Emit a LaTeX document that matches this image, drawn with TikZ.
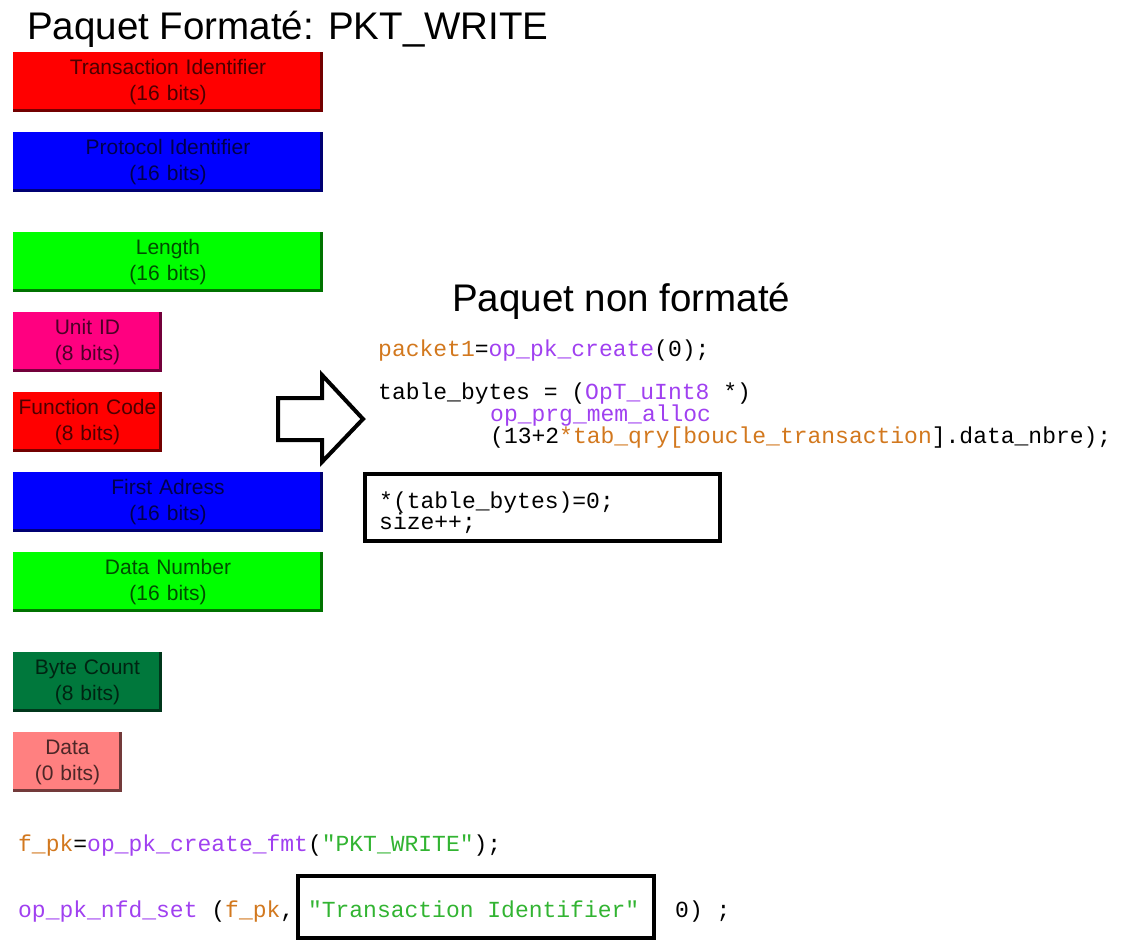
\documentclass[tikz,border=0pt]{standalone}
\usepackage{fontspec}
\setmainfont{Liberation Sans}
\setmonofont{Liberation Mono}
\definecolor{cred}{HTML}{FF0000}
\definecolor{cblue}{HTML}{0000FF}
\definecolor{cgreen}{HTML}{00FF00}
\definecolor{cmag}{HTML}{FF0080}
\definecolor{cdkgreen}{HTML}{00783C}
\definecolor{cpink}{HTML}{FF8080}
\definecolor{corange}{HTML}{D2781E}
\definecolor{cpurple}{HTML}{A040F0}
\definecolor{cstr}{HTML}{32B432}
\newcommand{\OR}[1]{\textcolor{corange}{#1}}
\newcommand{\PU}[1]{\textcolor{cpurple}{#1}}
\newcommand{\GR}[1]{\textcolor{cstr}{#1}}
\tikzset{
  field/.style={draw=none, fill=#1, text=#1!30!black, inner sep=0pt, outer sep=0pt,
    font=\fontsize{21}{26}\selectfont, align=center, anchor=north west},
  title/.style={font=\fontsize{38.5}{44}\selectfont, anchor=base west, inner sep=0pt},
  code/.style={font=\ttfamily\fontsize{23}{22}\selectfont, anchor=base west, inner sep=0pt},
  frame/.style={draw=black, line width=4pt, fill=none},
  blockarrow/.style={draw=black, line width=4pt, line join=miter, fill=white}
}
\newcommand{\field}[6]{% name, x, y, w, h, color/text
  \node[field=#5, minimum width=#4, minimum height=60pt, text width=#4] (#1) at (#2,#3) {#6};
  \draw[#5!45!black, line width=3pt] ([yshift=1.5pt]#1.south west) -- ([xshift=-1.5pt,yshift=1.5pt]#1.south east) -- ([xshift=-1.5pt]#1.north east);
}
\begin{document}
\begin{tikzpicture}[x=1pt,y=-1pt]
\useasboundingbox (0,0) rectangle (1122,942);
% title
\node[title] (t1) at (27,40) {Paquet Formaté: PKT\_WRITE};
% fields
\field{f1}{13}{52}{310pt}{cred}{Transaction Identifier\\(16 bits)}
\field{f2}{13}{132}{310pt}{cblue}{Protocol Identifier\\(16 bits)}
\field{f3}{13}{232}{310pt}{cgreen}{Length\\(16 bits)}
\field{f4}{13}{312}{149pt}{cmag}{Unit ID\\(8 bits)}
\field{f5}{13}{392}{149pt}{cred}{Function Code\\(8 bits)}
\field{f6}{13}{472}{310pt}{cblue}{First Adress\\(16 bits)}
\field{f7}{13}{552}{310pt}{cgreen}{Data Number\\(16 bits)}
\field{f8}{13}{652}{149pt}{cdkgreen}{Byte Count\\(8 bits)}
\field{f9}{13}{732}{109pt}{cpink}{Data\\(0 bits)}
% right part
\node[title] (t2) at (452,311) {Paquet non formaté};
\draw[blockarrow] (278,398) -- (322,398) -- (322,375) -- (363,419) -- (322,462) -- (322,440) -- (278,440) -- cycle;
\node[code] (c1) at (378,356) {\OR{packet1}=\PU{op\_pk\_create}(0);};
\node[code] (c2) at (378,399) {table\_bytes = (\PU{OpT\_uInt8} *)};
\node[code] (c3) at (490,421) {\PU{op\_prg\_mem\_alloc}};
\node[code] (c4) at (490,443) {(13+2\OR{*tab\_qry[boucle\_transaction}].data\_nbre);};
\draw[frame] (365,474) rectangle (720,541);
\node[code] (c5) at (379,508) {*(table\_bytes)=0;};
\node[code] (c6) at (379,529) {size++;};
% bottom code
\node[code] (c7) at (18,851) {\OR{f\_pk}=\PU{op\_pk\_create\_fmt}(\GR{"PKT\_WRITE"});};
\node[code] (c8) at (18,917) {\PU{op\_pk\_nfd\_set} (\OR{f\_pk}, \GR{"Transaction Identifier"}};
\node[code] (c9) at (675,917) {0) ;};
\draw[frame] (298,876) rectangle (654,938);
\end{tikzpicture}
\end{document}
